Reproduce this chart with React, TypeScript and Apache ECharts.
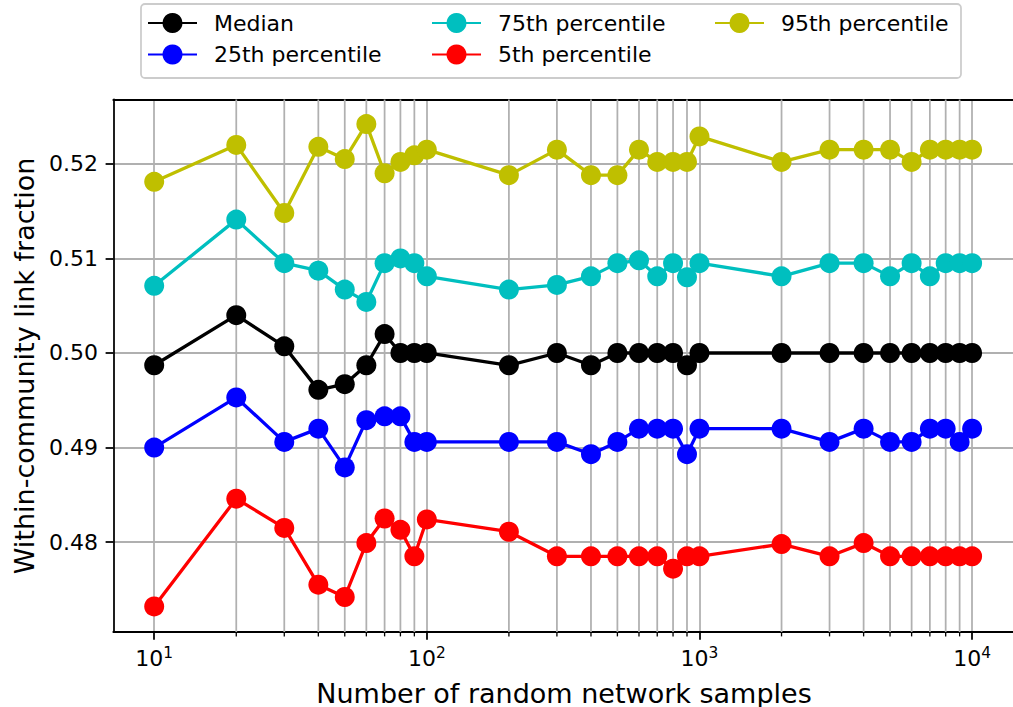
import React, { useEffect, useRef } from "react";
import * as echarts from "echarts";

const samples = [10, 20, 30, 40, 50, 60, 70, 80, 90, 100, 200, 300, 400, 500, 600, 700, 800, 900, 1000, 2000, 3000, 4000, 5000, 6000, 7000, 8000, 9000, 10000];
const median = [0.4987, 0.504, 0.5007, 0.4961, 0.4967, 0.4987, 0.502, 0.5, 0.5, 0.5, 0.4987, 0.5, 0.4987, 0.5, 0.5, 0.5, 0.5, 0.4987, 0.5, 0.5, 0.5, 0.5, 0.5, 0.5, 0.5, 0.5, 0.5, 0.5];
const p25 = [0.49, 0.4953, 0.4906, 0.492, 0.4879, 0.4929, 0.4933, 0.4933, 0.4906, 0.4906, 0.4906, 0.4906, 0.4893, 0.4906, 0.492, 0.492, 0.492, 0.4893, 0.492, 0.492, 0.4906, 0.492, 0.4906, 0.4906, 0.492, 0.492, 0.4906, 0.492];
const p75 = [0.5071, 0.5141, 0.5095, 0.5087, 0.5067, 0.5054, 0.5095, 0.51, 0.5095, 0.5081, 0.5067, 0.5072, 0.5081, 0.5095, 0.5098, 0.5081, 0.5095, 0.508, 0.5095, 0.5081, 0.5095, 0.5095, 0.5081, 0.5095, 0.5081, 0.5095, 0.5095, 0.5095];
const p5 = [0.4732, 0.4846, 0.4815, 0.4755, 0.4742, 0.4799, 0.4825, 0.4813, 0.4785, 0.4824, 0.4811, 0.4785, 0.4785, 0.4785, 0.4785, 0.4785, 0.4772, 0.4785, 0.4785, 0.4798, 0.4785, 0.4799, 0.4785, 0.4785, 0.4785, 0.4785, 0.4785, 0.4785];
const p95 = [0.5181, 0.522, 0.5148, 0.5218, 0.5205, 0.5242, 0.519, 0.5202, 0.5209, 0.5215, 0.5188, 0.5215, 0.5188, 0.5188, 0.5215, 0.5202, 0.5202, 0.5202, 0.5229, 0.5202, 0.5215, 0.5215, 0.5215, 0.5202, 0.5215, 0.5215, 0.5215, 0.5215];

const xMajorTicks = [10, 100, 1000, 10000];
const xMinorTicks = [20, 30, 40, 50, 60, 70, 80, 90, 200, 300, 400, 500, 600, 700, 800, 900, 2000, 3000, 4000, 5000, 6000, 7000, 8000, 9000];
const yTicks = [0.48, 0.49, 0.5, 0.51, 0.52];

const xTitle = "Number of random network samples";
const yTitle = "Within-community link fraction";

const X_MIN = Math.pow(10, 0.85);
const X_MAX = Math.pow(10, 4.15);
const Y_MIN = 0.4705;
const Y_MAX = 0.5268;

const seriesDefs = [
  { name: "Median", data: median, color: "#000000" },
  { name: "25th percentile", data: p25, color: "#0000ff" },
  { name: "75th percentile", data: p75, color: "#00bfbf" },
  { name: "5th percentile", data: p5, color: "#ff0000" },
  { name: "95th percentile", data: p95, color: "#bfbf00" },
];

const FONT = "DejaVu Sans";
const GRID = "#b0b0b0";

export default function App() {
  const ref = useRef<HTMLDivElement>(null);
  useEffect(() => {
    if (!ref.current) return;
    const chart = echarts.init(ref.current, null, { renderer: "svg" });
    const legendCommon = {
      orient: "vertical",
      top: 10.5,
      padding: 0,
      itemWidth: 49,
      itemHeight: 25,
      itemGap: 6.5,
      textStyle: { fontFamily: FONT, fontSize: 22, color: "#000", lineHeight: 25, padding: [0, 0, 0, 12] },
    };
    chart.setOption({
      animation: false,
      backgroundColor: "#ffffff",
      textStyle: { fontFamily: FONT },
      grid: { left: 113.3, right: -2.3, top: 99.5, bottom: 75, containLabel: false },
      graphic: [
        {
          type: "rect",
          shape: { x: 141, y: 4, width: 820, height: 74, r: 4 },
          style: { fill: "rgba(255,255,255,0.8)", stroke: "#cccccc", lineWidth: 1.76 },
          z: 0,
          silent: true,
        },
        {
          type: "text",
          x: 564,
          y: 693,
          silent: true,
          style: { text: xTitle, fontFamily: FONT, fontSize: 27, fill: "#000", align: "center", verticalAlign: "middle" },
        },
        {
          type: "text",
          x: 24,
          y: 366,
          rotation: Math.PI / 2,
          silent: true,
          style: { text: yTitle, fontFamily: FONT, fontSize: 27, fill: "#000", align: "center", verticalAlign: "middle" },
        },
      ],
      legend: [
        { ...legendCommon, left: 147, data: ["Median", "25th percentile"] },
        { ...legendCommon, left: 431, data: ["75th percentile", "5th percentile"] },
        { ...legendCommon, left: 714, data: ["95th percentile"] },
      ],
      xAxis: [
        {
          type: "log",
          logBase: 10,
          min: X_MIN,
          max: X_MAX,
          axisLine: { show: true, onZero: false, lineStyle: { color: "#000", width: 1.76 } },
          axisTick: { show: true, customValues: xMajorTicks, length: 7.7, lineStyle: { color: "#000", width: 1.76 } },
          axisLabel: {
            show: true,
            customValues: xMajorTicks,
            margin: 13,
            formatter: (v: number) => "{b|10}{s|" + Math.round(Math.log10(v)) + "}",
            rich: {
              b: { fontFamily: FONT, fontSize: 22, color: "#000", lineHeight: 26 },
              s: { fontFamily: FONT, fontSize: 15.4, color: "#000", verticalAlign: "top", lineHeight: 18 },
            },
          },
          splitLine: { show: true, lineStyle: { color: GRID, width: 1.76 } },
        },
        {
          type: "log",
          logBase: 10,
          min: X_MIN,
          max: X_MAX,
          position: "top",
          axisLine: { show: true, onZero: false, lineStyle: { color: "#000", width: 1.76 } },
          axisTick: { show: false },
          axisLabel: { show: false },
          splitLine: { show: false },
        },
      ],
      yAxis: {
        type: "value",
        min: Y_MIN,
        max: Y_MAX,
        minInterval: 0.01,
        maxInterval: 0.01,
        axisLine: { show: true, onZero: false, lineStyle: { color: "#000", width: 1.76 } },
        axisTick: { show: true, customValues: yTicks, length: 7.7, lineStyle: { color: "#000", width: 1.76 } },
        axisLabel: {
          show: true,
          customValues: yTicks,
          margin: 15.4,
          fontFamily: FONT,
          fontSize: 22,
          color: "#000",
          formatter: (v: number) => v.toFixed(2),
        },
        splitLine: { show: true, lineStyle: { color: GRID, width: 1.76 } },
      },
      series: [
        {
          type: "custom",
          name: "minor-grid",
          silent: true,
          clip: false,
          z: 1,
          data: xMinorTicks.map((v) => [v, Y_MIN]),
          encode: { x: 0, y: 1 },
          renderItem: (_params: any, api: any) => {
            const v = api.value(0);
            const top = api.coord([v, Y_MAX]);
            const bot = api.coord([v, Y_MIN]);
            return {
              type: "group",
              children: [
                { type: "line", shape: { x1: top[0], y1: top[1], x2: bot[0], y2: bot[1] }, style: { stroke: GRID, lineWidth: 1.76 } },
                { type: "line", shape: { x1: bot[0], y1: bot[1], x2: bot[0], y2: bot[1] + 4.4 }, style: { stroke: "#000", lineWidth: 1.32 } },
              ],
            };
          },
        },
        ...seriesDefs.map((s) => ({
          type: "line",
          name: s.name,
          data: samples.map((x, i) => [x, s.data[i]]),
          symbol: "circle",
          symbolSize: 20,
          showAllSymbol: true,
          z: 3,
          itemStyle: { color: s.color },
          lineStyle: { color: s.color, width: 3.3 },
          emphasis: { disabled: true },
        })),
      ],
    });
    return () => chart.dispose();
  }, []);
  return <div ref={ref} style={{ position: "fixed", left: 0, top: 0, width: 1013, height: 707 }} />;
}
